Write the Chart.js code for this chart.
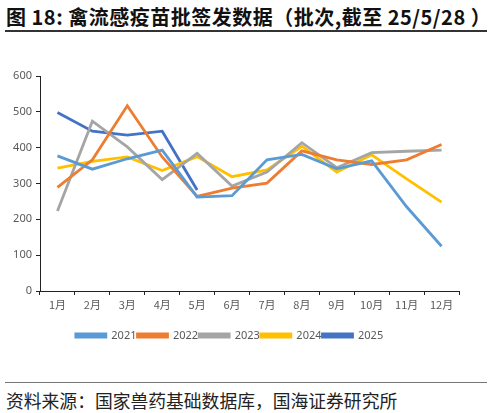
<!DOCTYPE html>
<html>
<head>
<meta charset="utf-8">
<script src="https://cdn.jsdelivr.net/npm/chart.js@4"></script>
<style>
  body { margin: 0; background: #fff; width: 492px; height: 413px; position: relative; overflow: hidden;
         font-family: "Noto Sans CJK SC", sans-serif; }
  #title { position: absolute; left: 6px; top: 2px; font-size: 20px; letter-spacing: 0.5px; font-weight: bold; color: #111; white-space: nowrap; }
  #rule1 { position: absolute; left: 5px; top: 30px; width: 482px; height: 1.5px; background: #333; }
  #wrap { position: absolute; left: 0; top: 60px; width: 492px; height: 300px; }
  #rule2 { position: absolute; left: 5px; top: 382px; width: 482px; height: 1px; background: #777; }
  #source { position: absolute; left: 6px; top: 387px; font-size: 17.8px; color: #222; white-space: nowrap; }
</style>
</head>
<body>
<div id="title">图 18: 禽流感疫苗批签发数据（批次,截至 25/5/28 ）</div>
<div id="rule1"></div>
<div id="wrap"><canvas id="chart"></canvas></div>
<div id="rule2"></div>
<div id="source">资料来源：国家兽药基础数据库，国海证券研究所</div>
<script>
// months on the x axis
var months = ['1月', '2月', '3月', '4月', '5月', '6月', '7月', '8月', '9月', '10月', '11月', '12月'];

// batches per month
var y2021 = [377, 340, 369, 393, 262, 266, 366, 381, 341, 363, 235, 125];
var y2022 = [289, 366, 517, 374, 264, 287, 301, 391, 366, 353, 366, 409];
var y2023 = [223, 474, 402, 311, 384, 293, 332, 414, 344, 386, 390, 393];
var y2024 = [343, 362, 374, 336, 375, 319, 338, 404, 332, 380, 313, 248];
var y2025 = [498, 446, 435, 446, 282];

var seriesNames = ['2021', '2022', '2023', '2024', '2025'];
var seriesData = [y2021, y2022, y2023, y2024, y2025];
var seriesColors = ['#5B9BD5', '#ED7D31', '#A5A5A5', '#FFC000', '#4472C4'];

var yTicks = [0, 100, 200, 300, 400, 500, 600];

var datasets = seriesNames.map(function (name, i) {
    return {
        label: name,
        data: seriesData[i],
        borderColor: seriesColors[i],
        backgroundColor: seriesColors[i],
        borderWidth: 2.8,
        pointRadius: 0,
        tension: 0,
        fill: false
    };
});

var ctx = document.getElementById('chart').getContext('2d');
new Chart(ctx, {
    type: 'line',
    data: { labels: months, datasets: datasets },
    options: {
        responsive: true,
        maintainAspectRatio: false,
        animation: false,
        layout: { padding: { left: 0, right: 33, top: 16, bottom: 9 } },
        plugins: {
            tooltip: { enabled: false },
            legend: {
                position: 'bottom',
                labels: {
                    boxWidth: 30,
                    boxHeight: 3,
                    padding: 1,
                    color: '#595959',
                    font: { family: 'Noto Sans, sans-serif', size: 11 }
                }
            }
        },
        scales: {
            x: {
                offset: true,
                grid: { display: true, drawOnChartArea: false, drawTicks: true, tickLength: 4, color: '#222', offset: true },
                border: { display: true, color: '#222', width: 1 },
                ticks: { color: '#595959', padding: 3, font: { family: 'Noto Sans CJK SC, sans-serif', size: 11 } },
                afterFit: function (scale) { scale.height = 38; }
            },
            y: {
                min: 0,
                max: 600,
                afterBuildTicks: function (scale) {
                    scale.ticks = yTicks.map(function (v) { return { value: v }; });
                },
                grid: { display: true, drawOnChartArea: false, drawTicks: true, tickLength: 4, color: '#222' },
                border: { display: true, color: '#222', width: 1 },
                ticks: { color: '#595959', padding: 4, font: { family: 'Noto Sans, sans-serif', size: 11 } },
                afterFit: function (scale) { scale.width = 40; }
            }
        }
    }
});
</script>
</body>
</html>
